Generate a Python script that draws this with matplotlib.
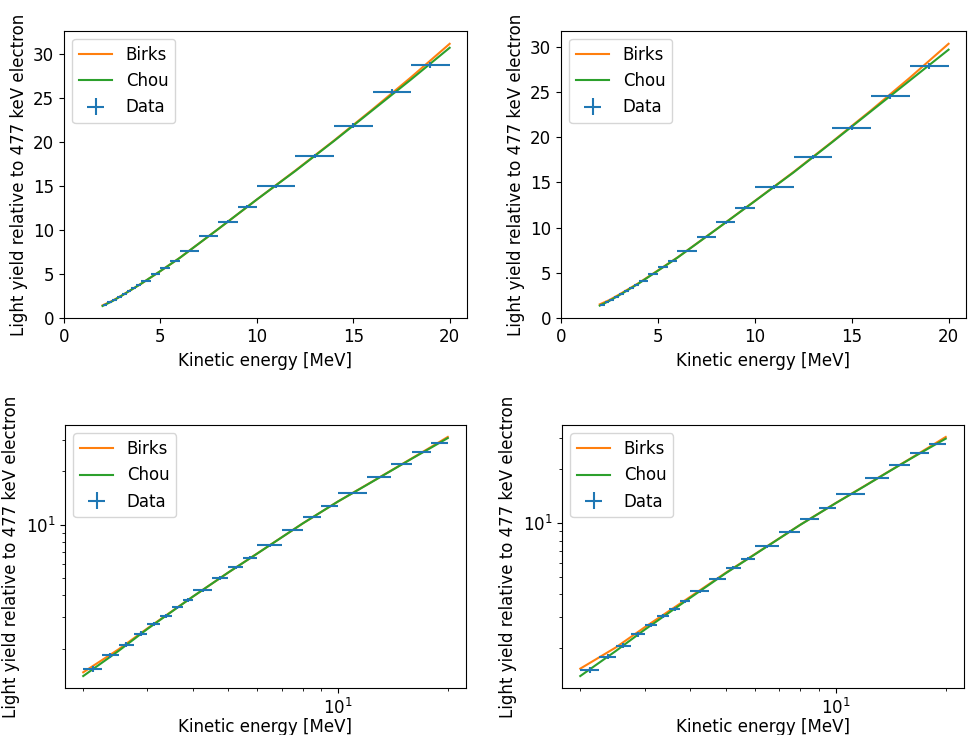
import matplotlib
matplotlib.use("Agg")
import matplotlib.pyplot as plt
import numpy as np

plt.rcParams['font.size'] = 12

# Bin edges of the data (MeV)
bin_lo = [2.0, 2.25, 2.5, 2.75, 3.0, 3.25, 3.5, 3.75, 4.0, 4.5, 5.0, 5.5,
          6.0, 7.0, 8.0, 9.0, 10.0, 12.0, 14.0, 16.0, 18.0]
bin_hi = [2.25, 2.5, 2.75, 3.0, 3.25, 3.5, 3.75, 4.0, 4.5, 5.0, 5.5, 6.0,
          7.0, 8.0, 9.0, 10.0, 12.0, 14.0, 16.0, 18.0, 20.0]

# Left column data
y_left = [1.53, 1.83, 2.10, 2.43, 2.76, 3.06, 3.41, 3.76, 4.26, 5.00, 5.74, 6.51,
          7.64, 9.33, 11.0, 12.7, 15.0, 18.5, 21.9, 25.75, 28.77]
yerr_left = [0.06, 0.06, 0.07, 0.07, 0.07, 0.08, 0.08, 0.08, 0.09, 0.10, 0.10, 0.11,
             0.12, 0.14, 0.15, 0.17, 0.20, 0.23, 0.27, 0.31, 0.34]
# Right column data
y_right = [1.51, 1.80, 2.07, 2.39, 2.69, 3.02, 3.33, 3.66, 4.16, 4.89, 5.64, 6.33,
           7.41, 8.98, 10.6, 12.2, 14.5, 17.85, 21.05, 24.5, 27.85]
yerr_right = [0.06, 0.06, 0.07, 0.07, 0.07, 0.08, 0.08, 0.08, 0.09, 0.10, 0.10, 0.11,
              0.12, 0.14, 0.15, 0.17, 0.20, 0.23, 0.27, 0.31, 0.34]

# Fit curves
x_curve = [2, 2.5, 3, 4, 5, 6, 8, 10, 12, 14, 16, 18, 20]
birks_left = [1.47, 1.98, 2.60, 3.93, 5.37, 6.87, 10.15, 13.5, 16.8, 20.2, 23.75, 27.4, 31.2]
chou_left = [1.40, 1.94, 2.58, 3.93, 5.37, 6.86, 10.15, 13.5, 16.75, 20.15, 23.65, 27.15, 30.75]
birks_right = [1.54, 2.02, 2.62, 3.88, 5.28, 6.70, 9.80, 12.95, 16.15, 19.5, 22.95, 26.55, 30.3]
chou_right = [1.40, 1.93, 2.54, 3.83, 5.25, 6.68, 9.79, 12.93, 16.1, 19.45, 22.85, 26.25, 29.65]

x_c = [(a + b) / 2 for a, b in zip(bin_lo, bin_hi)]
x_err = [(b - a) / 2 for a, b in zip(bin_lo, bin_hi)]

fig = plt.figure(figsize=(9.7, 7.35), dpi=100)
W, H = 970.0, 735.0
rects = {
    (0, 0): (64, 30.7, 467, 318.3),
    (0, 1): (561, 30.7, 966, 318.3),
    (1, 0): (65, 425, 466, 688),
    (1, 1): (562, 425, 964, 688),
}

def make_ax(r, c):
    x0, y0, x1, y1 = rects[(r, c)]
    return fig.add_axes([x0 / W, 1 - y1 / H, (x1 - x0) / W, (y1 - y0) / H])

datasets = [(y_left, yerr_left, birks_left, chou_left),
            (y_right, yerr_right, birks_right, chou_right)]

for r in range(2):
    for c in range(2):
        ax = make_ax(r, c)
        y, ye, b, ch = datasets[c]
        ax.plot(x_curve, b, color='C1', label='Birks')
        ax.plot(x_curve, ch, color='C2', label='Chou')
        ax.errorbar(x_c, y, xerr=x_err, yerr=ye, fmt='none', color='C0', label='Data')
        if r == 0:
            ax.set_xlim(left=0)
            ax.set_ylim(bottom=0)
            ax.set_xlabel('Kinetic energy [MeV]')
        else:
            ax.set_xscale('log')
            ax.set_yscale('log')
            ax.set_xlabel('Kinetic energy [MeV]', labelpad=0)
        ax.set_ylabel('Light yield relative to 477 keV electron')
        ax.legend(loc='upper left')

fig.savefig('out.png', dpi=100)
